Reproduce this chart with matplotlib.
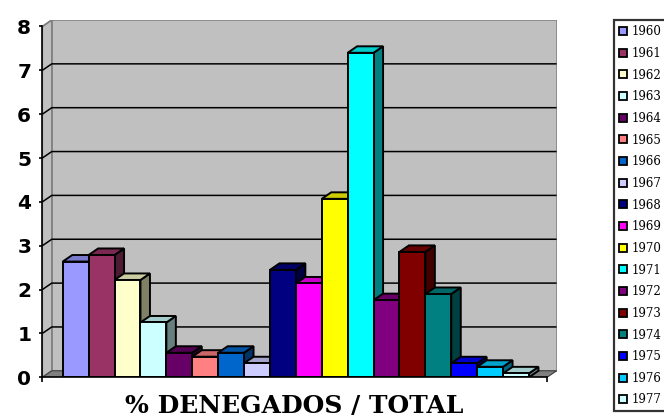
import matplotlib
matplotlib.use("Agg")
import matplotlib.pyplot as plt
from matplotlib.patches import Polygon, Patch
from matplotlib.colors import to_rgb

# ---- data -------------------------------------------------------------
years = [str(y) for y in range(1960, 1978)]
values = [2.64, 2.79, 2.22, 1.25, 0.56, 0.47, 0.56, 0.32, 2.45,
          2.14, 4.07, 7.40, 1.76, 2.86, 1.90, 0.32, 0.24, 0.09]
colors = ['#9999FF', '#993366', '#FFFFCC', '#CCFFFF', '#660066', '#FF8080',
          '#0066CC', '#CCCCFF', '#000080', '#FF00FF', '#FFFF00', '#00FFFF',
          '#800080', '#800000', '#008080', '#0000FF', '#00CCFF', '#CCFFFF']
y_ticks = list(range(0, 9))
x_title = '% DENEGADOS / TOTAL'

# ---- layout -----------------------------------------------------------
W, H, DPI = 664, 417, 100
bar_px = 25.9            # width of one column in pixels
unit_px = 43.85          # pixels per unit on the value axis
depth_x_px, depth_y_px = 9.5, 6.5
dx = depth_x_px / bar_px
dy = depth_y_px / unit_px
x_lo = -0.79
x_front_hi = len(values) + 0.70
x_hi = x_front_hi + dx
y_hi = 8 + dy

left_px, base_px = 42.3, 377.3
ax_w = (x_hi - x_lo) * bar_px
ax_h = y_hi * unit_px

fig = plt.figure(figsize=(W / DPI, H / DPI), dpi=DPI)
ax = fig.add_axes([left_px / W, (H - base_px) / H, ax_w / W, ax_h / H])
ax.set_xlim(x_lo, x_hi)
ax.set_ylim(0, y_hi)
ax.patch.set_visible(False)

wall = '#C0C0C0'
wall_edge = '#808080'

# back wall
ax.add_patch(Polygon([(x_lo + dx, dy), (x_hi, dy), (x_hi, y_hi), (x_lo + dx, y_hi)],
                     closed=True, facecolor=wall, edgecolor=wall_edge, lw=1.1, zorder=1))
# side wall
ax.add_patch(Polygon([(x_lo, 0), (x_lo + dx, dy), (x_lo + dx, y_hi), (x_lo, 8)],
                     closed=True, facecolor=wall, edgecolor=wall_edge, lw=1.1, zorder=1))
# floor
ax.add_patch(Polygon([(x_lo, 0), (x_front_hi, 0), (x_hi, dy), (x_lo + dx, dy)],
                     closed=True, facecolor='#808080', edgecolor='#404040', lw=0.8, zorder=1))

# gridlines on the walls
for k in y_ticks[1:-1]:
    ax.plot([x_lo, x_lo + dx, x_hi], [k, k + dy, k + dy], color='black', lw=1.1,
            solid_capstyle='butt', zorder=2)
ax.plot([x_lo, x_lo + dx], [8, 8 + dy], color=wall_edge, lw=1.1, zorder=2)


def shade(c, f):
    r, g, b = to_rgb(c)
    return (r * f, g * f, b * f)


# columns, drawn left to right so each one hides its neighbour's side
for i, (v, c) in enumerate(zip(values, colors)):
    x0, x1 = i, i + 1
    kw = dict(closed=True, edgecolor='black', lw=1.4, joinstyle='miter', zorder=3)
    ax.add_patch(Polygon([(x1, 0), (x1 + dx, dy), (x1 + dx, v + dy), (x1, v)],
                         facecolor=shade(c, 0.5), **kw))
    ax.add_patch(Polygon([(x0, v), (x1, v), (x1 + dx, v + dy), (x0 + dx, v + dy)],
                         facecolor=shade(c, 0.8), **kw))
    ax.add_patch(Polygon([(x0, 0), (x1, 0), (x1, v), (x0, v)],
                         facecolor=c, **kw))

# axes lines and ticks
for s in ('top', 'right'):
    ax.spines[s].set_visible(False)
ax.spines['left'].set_bounds(0, 8)
ax.spines['bottom'].set_bounds(x_lo, x_front_hi)
for s in ('left', 'bottom'):
    ax.spines[s].set_linewidth(1.2)
    ax.spines[s].set_zorder(4)
ax.set_yticks(y_ticks)
ax.set_yticklabels([str(t) for t in y_ticks], fontsize=14.5, fontweight='bold',
                   family='DejaVu Sans')
ax.tick_params(axis='y', direction='out', length=2.5, width=1.2, pad=5.5)
ax.set_xticks([x_lo, x_front_hi])
ax.set_xticklabels([])
ax.tick_params(axis='x', direction='out', length=3.4, width=1.2)

fig.text(294 / W, (H - 413.3) / H, x_title, ha='center', va='baseline',
         fontsize=18, fontweight='bold', family='DejaVu Serif')

# legend: first entry centred at y=31.7 px, last at y=400 px (from the top)
leg_fs = 8.5
leg_left_px, leg_top_px = 614, 21
first_px, last_px = 31.7, 400.0
handles = [Patch(facecolor=c, edgecolor='black', lw=1.3) for c in colors]


def make_legend(spacing, top_px):
    lg = fig.legend(handles, years, loc='upper left',
                    bbox_to_anchor=(leg_left_px / W, 1 - top_px / H),
                    bbox_transform=fig.transFigure,
                    borderaxespad=0, frameon=True, fancybox=False,
                    prop={'family': 'DejaVu Serif', 'size': leg_fs},
                    handlelength=0.68, handleheight=0.68, handletextpad=0.42,
                    labelspacing=spacing, borderpad=0.42)
    lg.get_frame().set_edgecolor('black')
    lg.get_frame().set_linewidth(1.6)
    return lg


def label_centres(lg):
    fig.canvas.draw()
    r = fig.canvas.get_renderer()
    ys = []
    for t in lg.get_texts():
        bb = t.get_window_extent(r)
        ys.append(H - (bb.y0 + bb.y1) / 2)
    return ys


spacing = 0.7
leg = make_legend(spacing, leg_top_px)
ys = label_centres(leg)
pitch = (ys[-1] - ys[0]) / (len(ys) - 1)
target = (last_px - first_px) / (len(ys) - 1)
spacing += (target - pitch) / (leg_fs * DPI / 72)
leg.remove()
leg = make_legend(spacing, leg_top_px)
ys = label_centres(leg)
top_px = leg_top_px + (first_px - ys[0])
leg.remove()
leg = make_legend(spacing, top_px)

fig.savefig('out.png', dpi=DPI)
